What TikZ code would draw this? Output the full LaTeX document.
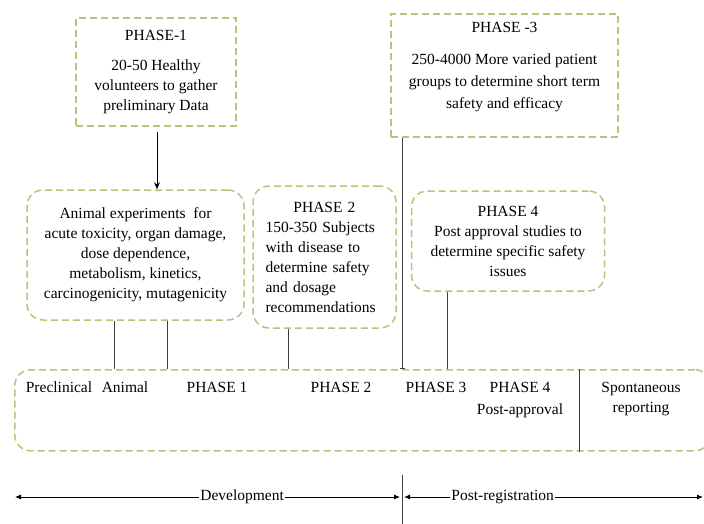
\documentclass[tikz,border=0pt]{standalone}
\usepackage{fontspec}
\setmainfont{Liberation Serif}
\usetikzlibrary{arrows.meta,positioning,calc}
\definecolor{leaf}{HTML}{9BBB59}
\definecolor{ink}{HTML}{404040}
\tikzset{
  square_box/.style={draw=leaf!80,dash pattern=on 7pt off 4pt,line width=1.5pt,
    align=center,inner sep=0pt},
  round_box/.style={square_box,rounded corners=16pt},
  txt/.style={font=\fontsize{15.5}{20}\selectfont,inner sep=1pt},
  link/.style={draw=ink,line width=0.9pt},
  arr/.style={-{Stealth[length=7pt,width=6pt]},draw=black,line width=0.9pt},
  time_arr/.style={{Latex[length=6pt,width=5pt]}-{Latex[length=6pt,width=5pt]},draw=black,line width=0.9pt},
}

\begin{document}
\begin{tikzpicture}[x=1pt,y=-1pt,every node/.style={txt}]
    \useasboundingbox (0,0) rectangle (704,524);
    % upper boxes
    \node[square_box,minimum width=160,minimum height=108] (p1) at (156,72)
      {PHASE-1\\[10pt]20-50 Healthy\\volunteers to gather\\preliminary Data};
    \node[square_box,minimum width=227,minimum height=123] (p3) at (504.5,75.5) {};
    \node[align=center,font=\fontsize{15.5}{22}\selectfont] (p3txt) at (504.5,67)
      {PHASE -3\\[10pt]250-4000 More varied patient\\groups to determine short term\\safety and efficacy};
    \node[round_box,minimum width=217,minimum height=130] (animal) at (135.5,255)
      {Animal experiments\ \ for\\acute toxicity, organ damage,\\dose dependence,\\metabolism, kinetics,\\carcinogenicity, mutagenicity};
    \node[round_box,minimum width=143,minimum height=142,text width=118,align=left] (p2) at (324.5,257)
      {\makebox[\linewidth][c]{PHASE 2}\\150-350 Subjects\\with disease to\\determine safety\\and dosage\\recommendations};
    \node[round_box,minimum width=193,minimum height=100] (p4) at (508,241)
      {PHASE 4\\Post approval studies to\\determine specific safety\\issues};
    % stage strip
    \node[round_box,minimum width=696,minimum height=81,anchor=north west] (stages) at (14,369) {};
    \node (pre) at (59,387) {Preclinical};
    \node (ani) at (125,387) {Animal};
    \node (s1) at (217,387) {PHASE 1};
    \node (s2) at (341,387) {PHASE 2};
    \node (s3) at (436,387) {PHASE 3};
    \node (s4) at (520,387) {PHASE 4};
    \node (post) at (520,411) {Post-approval};
    \node[align=center] (spont) at (641,399) {Spontaneous\\reporting};
    \draw[link] (stages.north -| 579,0) -- (stages.south -| 579,0);
    % connectors
    \draw[arr] (p1.south -| 157,0) ++(0,5) -- (animal.north -| 157,0);
    \draw[link] (animal.south -| 114,0) -- (stages.north -| 114,0);
    \draw[link] (animal.south -| 167,0) -- (stages.north -| 167,0);
    \draw[link] (p2.south -| 288,0) -- (stages.north -| 288,0);
    \draw[link,-{Bar[width=5pt]}] (p3.south -| 402,0) -- (stages.north -| 402,0);
    \draw[link] (p4.south -| 447,0) -- (stages.north -| 447,0);
    % timeline
    \coordinate (devL) at (15,497);
    \coordinate (devR) at (400,497);
    \coordinate (regL) at (404,497);
    \coordinate (regR) at (703,497);
    \coordinate (cutT) at (402,475);
    \coordinate (cutB) at (402,524);
    \draw[link] (cutT) -- (cutB);
    \draw[time_arr] (devL) -- node[pos=0.59,fill=white,inner xsep=1pt] (dev) {Development} (devR);
    \draw[time_arr] (regL) -- node[pos=0.33,fill=white,inner xsep=1pt] (reg) {Post-registration} (regR);
  \end{tikzpicture}
\end{document}
